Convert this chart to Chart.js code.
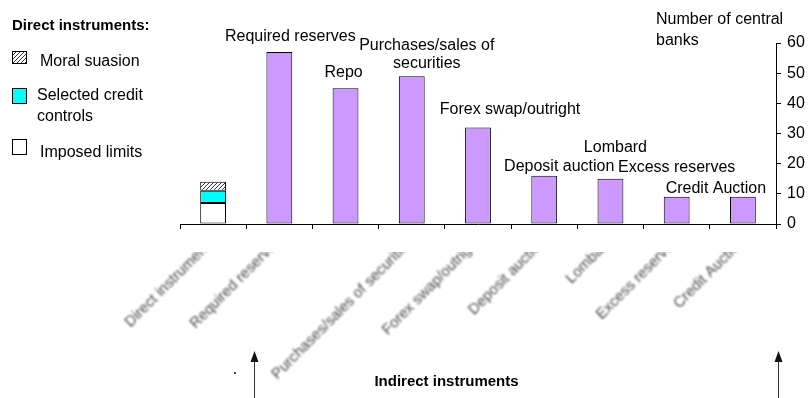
<!DOCTYPE html>
<html>
<head>
<meta charset="utf-8">
<title>Monetary policy instruments</title>
<script src="https://cdn.jsdelivr.net/npm/chart.js@4.4.1/dist/chart.umd.min.js"></script>
<style>
  html, body { margin: 0; padding: 0; background: #fff; }
  #wrap { width: 809px; height: 398px; }
</style>
</head>
<body>
<div id="wrap"><canvas id="chart" width="809" height="398"></canvas></div>
<script>
// Instruments used by central banks (number of banks)
const categories = ["Direct instruments", "Required reserves", "Repo", "Purchases/sales of securities",
  "Forex swap/outright", "Deposit auction", "Lombard", "Excess reserves", "Credit Auction"];
const tickLabels = ["Direct instruments", "Required reserves", "", "Purchases/sales of securities",
  "Forex swap/outright", "Deposit auction", "Lombard", "Excess reserves", "Credit Auction"];

const imposedLimits  = [7, null, null, null, null, null, null, null, null];
const selectedCredit = [4, null, null, null, null, null, null, null, null];
const moralSuasion   = [3, null, null, null, null, null, null, null, null];
const indirect       = [null, 57, 45, 49, 32, 16, 15, 9, 9];

const barLabels = [null, ["Required reserves"], ["Repo"], ["Purchases/sales of", "securities"],
  ["Forex swap/outright"], ["Deposit auction"], ["Lombard"], ["Excess reserves"], ["Credit Auction"]];
const yTicks = [0, 10, 20, 30, 40, 50, 60];

// text box offsets: [dx from bar centre, gap from bar top to last line]
const labelShift = [[0, 0], [11, 15], [-2, 16], [15, 13], [32, 18], [15, 9], [5, 31], [0, 29], [-27, 8]];

const FONT = '"Liberation Sans", Arial, Helvetica, sans-serif';
const PURPLE = "#CC99FF";
const CYAN = "#00FFFF";

function hatchPattern() {
  const c = document.createElement("canvas");
  c.width = 4; c.height = 4;
  const g = c.getContext("2d");
  g.fillStyle = "#fff";
  g.fillRect(0, 0, 4, 4);
  g.strokeStyle = "#333";
  g.lineWidth = 1;
  g.beginPath();
  g.moveTo(0, 4); g.lineTo(4, 0);
  g.moveTo(-1, 1); g.lineTo(1, -1);
  g.moveTo(3, 5); g.lineTo(5, 3);
  g.stroke();
  return g.createPattern(c, "repeat");
}
const HATCH = hatchPattern();

// category axis whose tick text is softened and cut off at the top
class SoftCategoryScale extends Chart.CategoryScale {
  drawLabels(chartArea) {
    const ctx = this.ctx;
    ctx.save();
    ctx.beginPath();
    ctx.rect(0, this.top + 28, this.chart.width, this.chart.height);
    ctx.clip();
    ctx.filter = "blur(0.9px)";
    super.drawLabels(chartArea);
    ctx.restore();
  }
}
SoftCategoryScale.id = "softCategory";
SoftCategoryScale.defaults = Chart.CategoryScale.defaults;
Chart.register(SoftCategoryScale);

const legendItems = [
  { ds: 2, lines: ["Moral suasion"], box: [12, 51, 15, 13], tx: 40, ty: 62 },
  { ds: 1, lines: ["Selected credit", "controls"], box: [12, 88, 15, 16], tx: 37, ty: 96 },
  { ds: 0, lines: ["Imposed limits"], box: [12, 139, 15, 16], tx: 40, ty: 153 }
];

function arrow(ctx, x, tipY, endY) {
  ctx.strokeStyle = "#333";
  ctx.fillStyle = "#111";
  ctx.lineWidth = 1;
  ctx.beginPath();
  ctx.moveTo(x, tipY + 8);
  ctx.lineTo(x, endY);
  ctx.stroke();
  ctx.beginPath();
  ctx.moveTo(x, tipY);
  ctx.lineTo(x - 4, tipY + 11);
  ctx.lineTo(x + 4, tipY + 11);
  ctx.closePath();
  ctx.fill();
}

const notes = {
  id: "notes",
  afterDraw(chart) {
    const ctx = chart.ctx;
    const area = chart.chartArea;
    const xs = chart.scales.x;
    const meta = chart.getDatasetMeta(3);
    ctx.save();

    // labels above the indirect-instrument bars
    ctx.fillStyle = "#000";
    ctx.font = "16px " + FONT;
    ctx.textAlign = "center";
    ctx.textBaseline = "middle";
    barLabels.forEach((lines, i) => {
      if (!lines) return;
      const bar = meta.data[i];
      const [dx, gap] = labelShift[i];
      lines.forEach((t, k) => {
        ctx.fillText(t, bar.x + dx, bar.y - gap - (lines.length - 1 - k) * 18);
      });
    });

    // legend for the direct instruments
    ctx.textAlign = "left";
    ctx.font = "bold 15px " + FONT;
    ctx.fillText("Direct instruments:", 12, 26);
    ctx.font = "16px " + FONT;
    legendItems.forEach(item => {
      const ds = chart.data.datasets[item.ds];
      const [bx, by, bw, bh] = item.box;
      ctx.fillStyle = ds.backgroundColor;
      ctx.fillRect(bx, by, bw, bh);
      ctx.strokeStyle = "#000";
      ctx.lineWidth = 1;
      ctx.strokeRect(bx + 0.5, by + 0.5, bw - 1, bh - 1);
      ctx.fillStyle = "#000";
      item.lines.forEach((t, k) => ctx.fillText(t, item.tx, item.ty + k * 21));
    });

    // axis caption
    ctx.fillText("Number of central", 656, 20);
    ctx.fillText("banks", 656, 41);

    // bracket arrows for the indirect group
    const leftX = Math.round(xs.getPixelForValue(1) - 25) + 0.5;
    const rightX = Math.round(area.right + 2) + 0.5;
    arrow(ctx, leftX, 351, chart.height);
    arrow(ctx, rightX, 351, chart.height);
    ctx.fillStyle = "#444";
    ctx.fillRect(234, 372, 2, 2);

    ctx.fillStyle = "#000";
    ctx.textAlign = "center";
    ctx.font = "bold 15px " + FONT;
    ctx.fillText("Indirect instruments", (leftX + rightX) / 2 - 70, 382);
    ctx.restore();
  }
};

const barStyle = { borderColor: "#000", borderWidth: 1, borderSkipped: false, stack: "all" };

new Chart(document.getElementById("chart"), {
  type: "bar",
  data: {
    labels: categories,
    datasets: [
      { label: "Imposed limits", data: imposedLimits, backgroundColor: "#FFFFFF", ...barStyle },
      { label: "Selected credit controls", data: selectedCredit, backgroundColor: CYAN, ...barStyle },
      { label: "Moral suasion", data: moralSuasion, backgroundColor: HATCH, ...barStyle },
      { label: "Indirect instruments", data: indirect, backgroundColor: PURPLE, ...barStyle }
    ]
  },
  options: {
    responsive: false,
    animation: false,
    devicePixelRatio: 1,
    layout: { padding: { left: 180, top: 43, right: 0, bottom: 0 } },
    datasets: { bar: { categoryPercentage: 1, barPercentage: 0.39 } },
    plugins: { legend: { display: false }, tooltip: { enabled: false } },
    scales: {
      x: {
        type: "softCategory",
        stacked: true,
        offset: true,
        border: { display: true, color: "#000", width: 1 },
        grid: { offset: true, drawOnChartArea: false, drawTicks: true, tickLength: 5, color: "#000" },
        ticks: {
          autoSkip: false,
          minRotation: 45,
          maxRotation: 45,
          padding: 4,
          color: "#4a4a4a",
          font: { family: FONT, size: 15 },
          callback: (v, i) => tickLabels[i]
        },
        afterFit: s => { s.height = 174; }
      },
      y: {
        position: "right",
        stacked: true,
        min: 0,
        max: 60,
        border: { display: true, color: "#000", width: 1 },
        grid: { drawOnChartArea: false, drawTicks: true, tickLength: 5, color: "#000" },
        afterBuildTicks: s => { s.ticks = yTicks.map(v => ({ value: v })); },
        ticks: { padding: 6, color: "#000", font: { family: FONT, size: 16 } },
        afterFit: s => { s.width = 33; }
      }
    }
  },
  plugins: [notes]
});
</script>
</body>
</html>
